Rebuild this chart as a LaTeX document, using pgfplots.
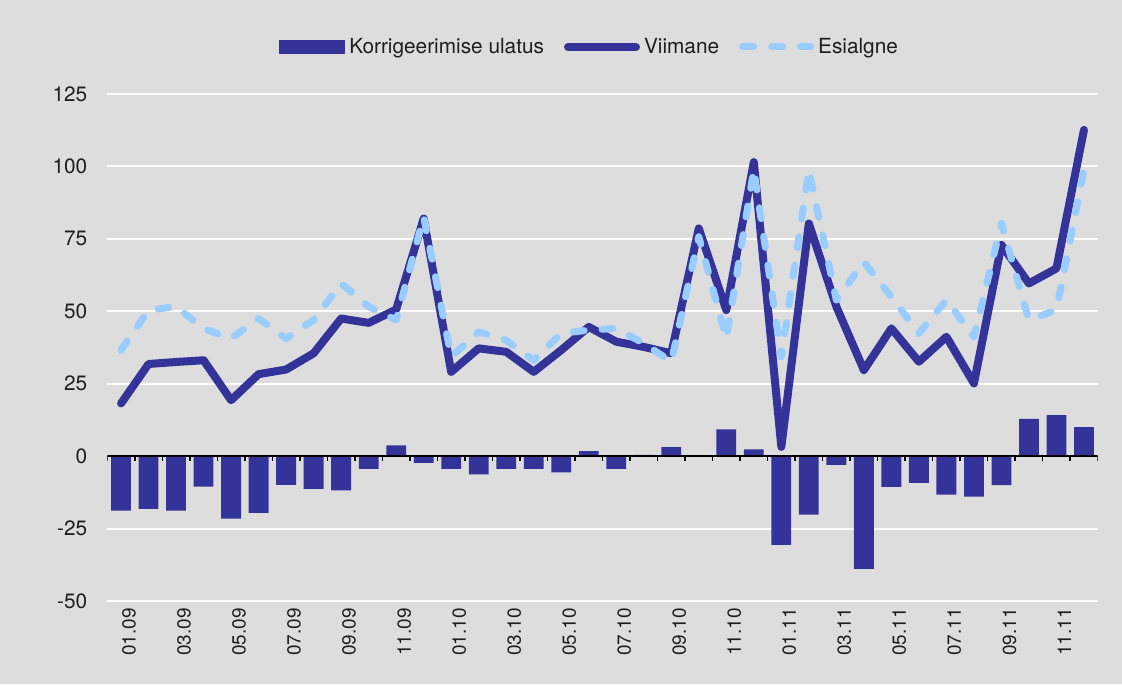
\documentclass[border=0pt]{standalone}
\usepackage{pgfplots}
\pgfplotsset{compat=1.18}
\usepackage{fontspec}
\setmainfont{TeX Gyre Heros}
\definecolor{bgc}{RGB}{221,221,221}
\definecolor{barc}{RGB}{51,51,153}
\definecolor{lightc}{RGB}{153,204,255}
\definecolor{txt}{RGB}{30,30,30}
\pgfplotsset{
  lineleg/.style={legend image code/.code={\draw[##1] (0pt,0pt) -- (34pt,0pt);}},
  barleg/.style={legend image code/.code={\fill[barc] (0pt,-3.5pt) rectangle (33pt,3.5pt);}},
}
\begin{document}
\begin{tikzpicture}[font=\fontsize{10.4}{12}\selectfont, text=txt]
\fill[bgc] (0,0) rectangle (561pt,342pt);
\begin{axis}[
    at={(53.65pt,41.5pt)}, anchor=south west,
    scale only axis, width=495.2pt, height=253.5pt,
    xmin=-0.5, xmax=35.5, ymin=-50, ymax=125,
    axis line style={draw=none},
    ytick={-50,-25,...,125},
    xtick={0,2,...,34},
    xticklabels={01.09,03.09,05.09,07.09,09.09,11.09,01.10,03.10,05.10,07.10,09.10,11.10,01.11,03.11,05.11,07.11,09.11,11.11},
    major tick length=0pt,
    ymajorgrids, grid style={white, line width=1pt},
    /pgf/number format/assume math mode=true,
    yticklabel style={xshift=-6.5pt},
    xticklabel style={rotate=90, anchor=east, yshift=-4pt, font=\fontsize{9.5}{11}\selectfont},
    legend style={at={(0.488,1.0927)}, anchor=center, draw=none, fill=none,
        legend columns=3, nodes={inner xsep=2pt},
        /tikz/every even column/.append style={column sep=8pt}},
]
% korrigeerimise ulatus
\addplot[ybar, bar width=0.72, fill=barc, draw=none, barleg]
  coordinates {
  (0,-18.8) (1,-18.2) (2,-18.8) (3,-10.5) (4,-21.6) (5,-19.6) (6,-9.9) (7,-11.3)
  (8,-11.8) (9,-4.4) (10,3.7) (11,-2.3) (12,-4.4) (13,-6.3) (14,-4.4) (15,-4.4)
  (16,-5.6) (17,1.7) (18,-4.4) (19,0.4) (20,3.1) (21,0.3) (22,9.2) (23,2.3)
  (24,-30.6) (25,-20.2) (26,-3) (27,-38.9) (28,-10.6) (29,-9.2) (30,-13.3) (31,-14)
  (32,-10) (33,12.9) (34,14.2) (35,10)
  };
\addlegendentry{Korrigeerimise ulatus}
% null-joon ja jaotised
\draw[black, line width=1pt] (axis cs:-0.5,0) -- (axis cs:35.5,0);
\pgfplotsinvokeforeach{-0.5,0.5,...,35.5}{
  \draw[black, line width=0.8pt] (axis cs:#1,0) -- ([yshift=-2.5pt]axis cs:#1,0);
}
% viimane
\addplot[barc, line width=4pt, line join=round, line cap=round, lineleg]
  coordinates {
  (0,18.2) (1,31.8) (2,32.5) (3,33.1) (4,19.3) (5,28.3) (6,29.9) (7,35.5)
  (8,47.5) (9,46) (10,50.6) (11,82) (12,29.1) (13,37.2) (14,36) (15,29.1)
  (16,36.6) (17,44.6) (18,39.5) (19,37.7) (20,35.5) (21,78.6) (22,50.4) (23,101.5)
  (24,3.2) (25,80.3) (26,51.6) (27,29.7) (28,44.1) (29,32.6) (30,41.2) (31,25.1)
  (32,72.9) (33,59.6) (34,64.8) (35,112.6)
  };
\addlegendentry{Viimane}
% esialgne
\addplot[lightc, line width=3.5pt, line join=round, line cap=round,
    dash pattern=on 5.5pt off 9pt, lineleg]
  coordinates {
  (0,36.6) (1,50.4) (2,51.6) (3,44) (4,40.6) (5,47.5) (6,40.6) (7,47)
  (8,59.6) (9,51.6) (10,47) (11,82.6) (12,34.3) (13,42.9) (14,40) (15,33.1)
  (16,42.4) (17,43.5) (18,44.1) (19,38.9) (20,32.6) (21,75.7) (22,40.6) (23,99)
  (24,34.3) (25,98.8) (26,53.9) (27,67) (28,55) (29,42.4) (30,53.9) (31,41.2)
  (32,80.3) (33,47) (34,50.4) (35,98.8)
  };
\addlegendentry{Esialgne}
\end{axis}
\pgfresetboundingbox
\path[use as bounding box] (0,0) rectangle (561pt,342pt);
\end{tikzpicture}
\end{document}
